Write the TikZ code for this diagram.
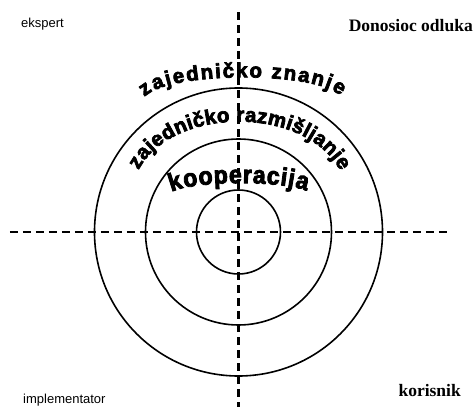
\documentclass[tikz,border=0pt]{standalone}
\usepackage{fontspec}
\setmainfont{Liberation Serif}
\setsansfont{Liberation Sans}
\usetikzlibrary{decorations.text}

\newfontfamily\archfamily{Liberation Sans Bold}[FakeBold=3.5]
\newfontfamily\bigarchfamily{Liberation Sans Bold}[FakeStretch=0.92, FakeBold=3.5]
\newcommand{\archfont}{\archfamily\fontsize{20.5}{24}\selectfont}
\newcommand{\bigarchfont}{\bigarchfamily\fontsize{25}{28}\selectfont}

\begin{document}
\begin{tikzpicture}[
    x=1pt, y=1pt,
    ring/.style={draw, line width=1.6pt},
    axis/.style={line width=2.3pt, dash pattern=on 8pt off 5pt},
    role/.style={inner sep=0pt, font=\sffamily\fontsize{13}{15}\selectfont},
    rolebold/.style={inner sep=0pt, font=\bfseries\fontsize{17.5}{20}\selectfont},
    arch/.style={decorate, decoration={text along path, text align=fit to path, text={#1}}}
  ]

  \useasboundingbox (-238.5,-175) rectangle (236.5,232);

  % ============ AXES ============
  \coordinate (c) at (0,0);
  \coordinate (left) at (-228.5,0);
  \coordinate (right) at (209.5,0);
  \coordinate (top) at (0,219.5);
  \coordinate (bottom) at (0,-175);

  \draw[axis] (left) -- (right);
  \draw[axis] (top) -- (bottom);

  % ============ RINGS ============
  \draw[ring] (c) circle[radius=144];
  \draw[ring] (c) circle[radius=93];
  \draw[ring] (c) circle[radius=42];

  % ============ ARCHED TEXTS ============
  \coordinate (zn1) at (-94,135);
  \coordinate (zn2) at (102,136);
  \path[arch={|\archfont|zajedničko znanje}] (zn1) .. controls (-70,161) and (78,161) .. (zn2);

  \coordinate (rz1) at (-100,62);
  \coordinate (rz2) at (102,61);
  \path[arch={|\archfont|zajedničko razmišljanje}] (rz1) .. controls (-65.6,126.7) and (67,126.7) .. (rz2);

  \coordinate (ko1) at (-67,40);
  \coordinate (ko2) at (68,41);
  \path[arch={|\bigarchfont|kooperacija}] (ko1) .. controls (-44.5,51.7) and (45,51.7) .. (ko2);

  % ============ ROLES ============
  \node[role, anchor=base west] (ekspert) at (-217.5,204) {ekspert};
  \node[rolebold, anchor=base east] (donosioc) at (234.5,200) {Donosioc odluka};
  \node[role, anchor=base west] (impl) at (-215.5,-172) {implementator};
  \node[rolebold, anchor=base east] (korisnik) at (222.5,-165) {korisnik};

\end{tikzpicture}
\end{document}
